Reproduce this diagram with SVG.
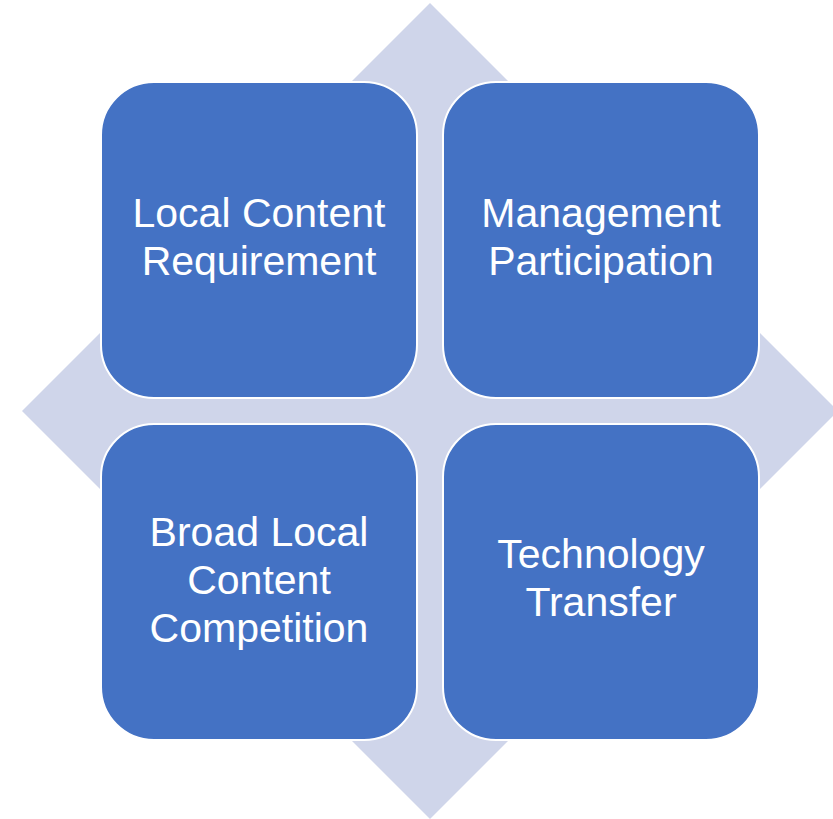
<svg xmlns="http://www.w3.org/2000/svg" width="833" height="819" viewBox="0 0 833 819">
<style>
.bg{fill:#CFD5EA}
.box{fill:#4472C4;stroke:#FFFFFF;stroke-width:2}
.lbl{fill:#FFFFFF;font-family:"Liberation Sans",Arial,sans-serif;font-size:41px;text-anchor:middle}
</style>
<rect width="833" height="819" fill="#FFFFFF"/>
<polygon id="diamond" class="bg" points="430,3 838,411 430,819 22,411"/>
<g id="connectors"></g>
<g id="node-local-content">
<rect class="box" x="101" y="82" width="316" height="316" rx="53" ry="53"/>
<text class="lbl" x="259" y="227">Local Content</text>
<text class="lbl" x="259" y="275">Requirement</text>
</g>
<g id="node-management">
<rect class="box" x="443" y="82" width="316" height="316" rx="53" ry="53"/>
<text class="lbl" x="601" y="227">Management</text>
<text class="lbl" x="601" y="275">Participation</text>
</g>
<g id="node-broad">
<rect class="box" x="101" y="424" width="316" height="316" rx="53" ry="53"/>
<text class="lbl" x="259" y="546">Broad Local</text>
<text class="lbl" x="259" y="594">Content</text>
<text class="lbl" x="259" y="642">Competition</text>
</g>
<g id="node-technology">
<rect class="box" x="443" y="424" width="316" height="316" rx="53" ry="53"/>
<text class="lbl" x="601" y="568">Technology</text>
<text class="lbl" x="601" y="616">Transfer</text>
</g>
</svg>
